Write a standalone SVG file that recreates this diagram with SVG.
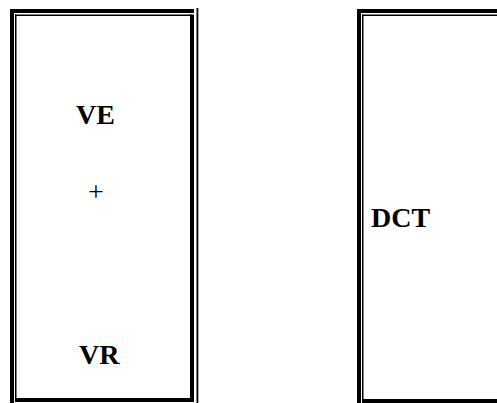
<svg xmlns="http://www.w3.org/2000/svg" width="497" height="403" viewBox="0 0 497 403">
  <style>
    .rule { fill: #000; }
    .label { font-family: "Liberation Serif", "Times New Roman", serif; font-size: 28px; fill: #000; }
    .bold { font-weight: bold; }
  </style>
  <rect width="497" height="403" fill="#fff"/>

  <!-- left panel: thick-thin double frame -->
  <g id="panel-ve-vr">
    <rect class="rule" x="10" y="9" width="4" height="394"/>
    <rect class="rule" x="10" y="9" width="184" height="4"/>
    <rect class="rule" x="15" y="14.5" width="1.5" height="386"/>
    <rect class="rule" x="15" y="14.5" width="177" height="1.5"/>
    <rect class="rule" x="190" y="14.5" width="4" height="387"/>
    <rect class="rule" x="196.5" y="8" width="1.8" height="395"/>
    <rect class="rule" x="15" y="398" width="179" height="4"/>
    <text class="label bold" x="76" y="124">VE</text>
    <text class="label" x="88" y="201">+</text>
    <text class="label bold" x="79" y="364">VR</text>
  </g>

  <!-- right panel, running off the right edge -->
  <g id="panel-dct">
    <rect class="rule" x="357" y="9" width="4" height="394"/>
    <rect class="rule" x="357" y="9" width="140" height="4"/>
    <rect class="rule" x="362" y="14.5" width="1.5" height="386"/>
    <rect class="rule" x="362" y="14.5" width="135" height="1.5"/>
    <rect class="rule" x="362" y="399" width="135" height="4"/>
    <text class="label bold" x="371" y="227">DCT</text>
  </g>

  <g id="connectors"/>
</svg>
